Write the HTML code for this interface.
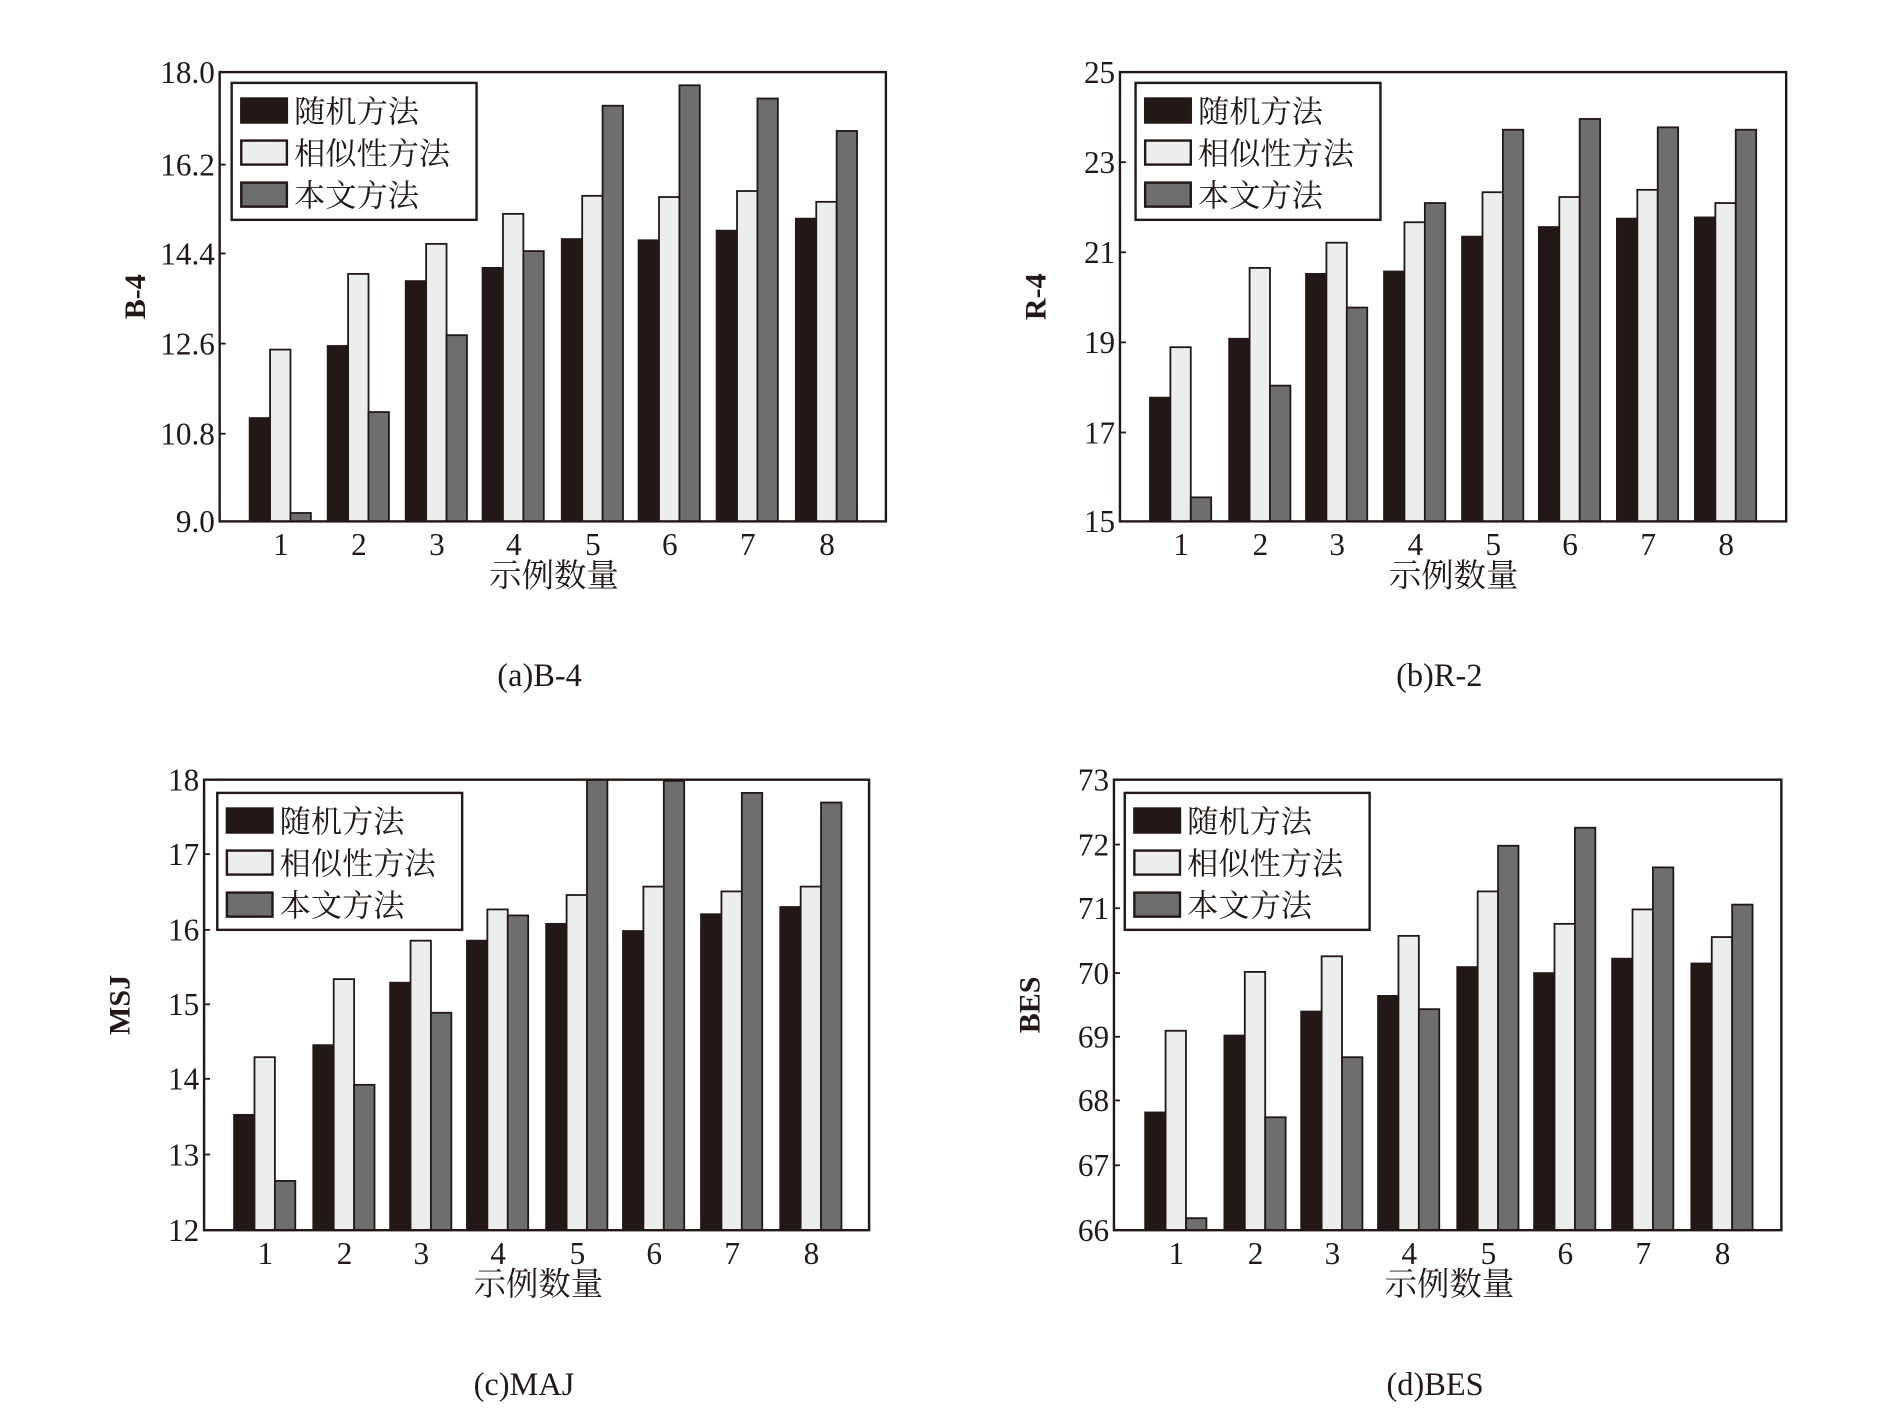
<!DOCTYPE html>
<html><head><meta charset="utf-8"><style>
html,body{margin:0;padding:0;background:#fff;}
svg{display:block;}
text{fill:#231816;}
</style></head><body>
<svg id="s" width="1881" height="1414" viewBox="0 0 1567 1177" preserveAspectRatio="none" xmlns="http://www.w3.org/2000/svg"></svg>
<script>
const P=[
{x0:183,x1:738,y0:60,y1:434,ticks:[["18.0",60],["16.2",137],["14.4",211],["12.6",286],["10.8",361],["9.0",434]],
 c:[234,299,364,428,494,558,623,689],
 r:[348,288,234,223,199,200,192,182],s:[291,228,203,178,163,164,159,168],o:[427,343,279,209,88,71,82,109],
 lg:[193,69],yl:"B-4",cap:"(a)B-4"},
{x0:933,x1:1488,y0:60,y1:434,ticks:[["25",60],["23",135],["21",210],["19",285],["17",360],["15",434]],
 c:[984,1050,1114,1179,1244,1308,1373,1438],
 r:[331,282,228,226,197,189,182,181],s:[289,223,202,185,160,164,158,169],o:[414,321,256,169,108,99,106,108],
 lg:[946,69],yl:"R-4",cap:"(b)R-2"},
{x0:170,x1:724,y0:649,y1:1024,ticks:[["18",649],["17",711],["16",774],["15",836],["14",898],["13",961],["12",1024]],
 c:[221,287,351,415,481,545,610,676],
 r:[928,870,818,783,769,775,761,755],s:[880,815,783,757,745,738,742,738],o:[983,903,843,762,649,650,660,668],
 lg:[181,660],yl:"MSJ",cap:"(c)MAJ"},
{x0:928,x1:1484,y0:649,y1:1024,ticks:[["73",649],["72",703],["71",756],["70",810],["69",863],["68",916],["67",970],["66",1024]],
 c:[980,1046,1110,1174,1240,1304,1369,1435],
 r:[926,862,842,829,805,810,798,802],s:[858,809,796,779,742,769,757,780],o:[1014,930,880,840,704,689,722,753],
 lg:[937,660],yl:"BES",cap:"(d)BES"}];
const F='font-family="Liberation Serif, Noto Serif CJK SC, serif"';
const FC='font-family="Liberation Serif, Noto Serif CJK SC, Noto Sans CJK SC, serif"';
const cols=["#231816","#eceeed","#6e6e6e"];
let h="";
for(const p of P){
  const w=17;
  p.c.forEach((cx,i)=>{
    [p.r[i],p.s[i],p.o[i]].forEach((t,k)=>{
      const x=cx-26+k*w;
      h+=`<rect x="${x}" y="${t}" width="${w}" height="${p.y1-t}" fill="${cols[k]}" stroke="#231816" stroke-width="1.5"/>`;
    });
    h+=`<text x="${cx}" y="${p.y1+28}" font-size="26" text-anchor="middle" ${F}>${i+1}</text>`;
  });
  h+=`<rect x="${p.x0}" y="${p.y0}" width="${p.x1-p.x0}" height="${p.y1-p.y0}" fill="none" stroke="#231816" stroke-width="2"/>`;
  for(const [l,y] of p.ticks){
    h+=`<line x1="${p.x0}" x2="${p.x0+5}" y1="${y}" y2="${y}" stroke="#231816" stroke-width="1.5"/>`;
    h+=`<text x="${p.x0-4}" y="${y+9}" font-size="26" text-anchor="end" ${F}>${l}</text>`;
  }
  const mx=(p.c[0]+p.c[7])/2;
  h+=`<text x="${mx}" y="${p.y1+54}" font-size="27" text-anchor="middle" ${FC}>示例数量</text>`;
  const my=(p.y0+p.y1)/2;
  h+=`<text transform="translate(${p.x0-62},${my}) rotate(-90)" font-size="25" font-weight="bold" text-anchor="middle" ${F}>${p.yl}</text>`;
  h+=`<text x="${mx-12}" y="${p.y1+137}" font-size="27" text-anchor="middle" ${FC}>${p.cap}</text>`;
  const [lx,ly]=p.lg;
  h+=`<rect x="${lx}" y="${ly}" width="204" height="114" fill="#fff" stroke="#231816" stroke-width="2"/>`;
  ["随机方法","相似性方法","本文方法"].forEach((t,k)=>{
    const cy=ly+23+k*35;
    h+=`<rect x="${lx+8}" y="${cy-10}" width="38" height="20" fill="${cols[k]}" stroke="#231816" stroke-width="2"/>`;
    h+=`<text x="${lx+52}" y="${cy+10}" font-size="26" ${FC}>${t}</text>`;
  });
}
document.getElementById("s").innerHTML=h;
</script>
</body></html>
